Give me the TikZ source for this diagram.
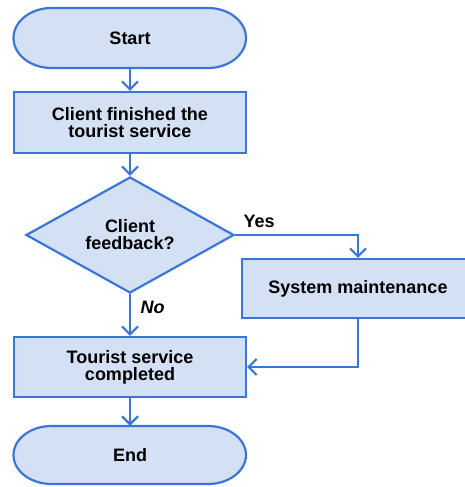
\documentclass[tikz,border=0pt]{standalone}
\usepackage{fontspec}
\setmainfont{Liberation Sans}
\usetikzlibrary{arrows.meta,shapes.geometric}
\definecolor{bfill}{HTML}{D4E1F5}
\definecolor{bline}{HTML}{3A76D6}
\begin{document}
\begin{tikzpicture}[x=1pt,y=-1pt,
  every node/.style={font=\fontsize{18}{17}\selectfont\bfseries, text=black, align=center},
  box/.style={draw=bline, fill=bfill, line width=2.2pt, minimum width=232pt, inner sep=0pt},
  term/.style={draw=bline, fill=bfill, line width=2.2pt},
  decision/.style={draw=bline, fill=bfill, line width=2.2pt, diamond, aspect=1.8, minimum width=208pt, minimum height=116pt, inner sep=0pt},
  link/.style={draw=bline, line width=2.2pt, -{Straight Barb[length=8pt,width=16pt]}},
  lbl/.style={anchor=base west}]
\clip (0,0) rectangle (465,487);
% Start terminator
\path[term] (51.5,8) -- (208,8) arc[start angle=90,end angle=-90,x radius=38pt,y radius=30pt]
  -- (51.5,68) arc[start angle=270,end angle=90,x radius=38pt,y radius=30pt] -- cycle;
\node[minimum width=232pt, minimum height=60pt, inner sep=0pt] (start) at (130,38) {Start};
% Process 1
\node[box, minimum height=61pt] (c1) at (130,122.5) {Client finished the\\tourist service};
% Decision
\node[decision] (dec) at (130,235) {Client\\feedback?};
% System maintenance
\node[box, minimum height=59pt] (sys) at (358,288.5) {System maintenance};
% Process 2
\node[box, minimum height=60pt] (c2) at (130,367) {Tourist service\\completed};
% End terminator
\path[term] (51.5,426) -- (208,426) arc[start angle=90,end angle=-90,x radius=38pt,y radius=29pt]
  -- (51.5,484) arc[start angle=270,end angle=90,x radius=38pt,y radius=29pt] -- cycle;
\node[minimum width=232pt, minimum height=58pt, inner sep=0pt] (end) at (130,455) {End};
% Labels
\node[lbl] (yes) at (240,227) {Yes};
\node[lbl, font=\fontsize{18}{17}\selectfont\bfseries\itshape] (no) at (137,313) {No};
% Connectors
\draw[link] (start.south) -- (c1.north);
\draw[link] (c1.south) -- (dec.north);
\draw[link] (dec.east) -| (sys.north);
\draw[link] (dec.south) -- (c2.north);
\draw[link] (sys.south) |- (c2.east);
\draw[link] (c2.south) -- (end.north);
\end{tikzpicture}
\end{document}
